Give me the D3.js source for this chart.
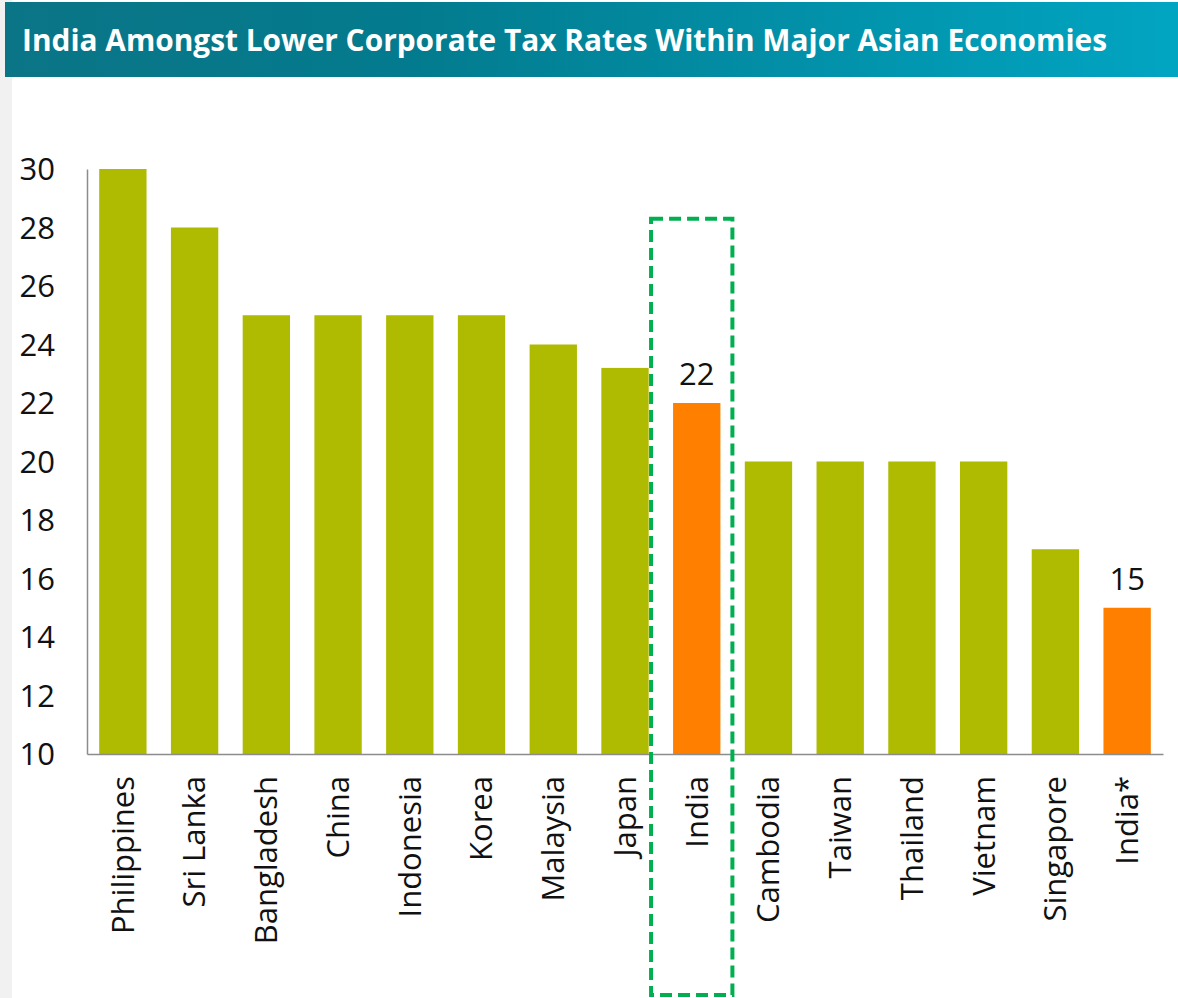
<!DOCTYPE html>
<html>
<head>
<meta charset="utf-8">
<script src="https://cdn.jsdelivr.net/npm/d3@7"></script>
<style>
  body { margin: 0; background: #fff; }
  svg { display: block; }
</style>
</head>
<body>
<div id="chart"></div>
<script>
// data
var countries = ["Philippines", "Sri Lanka", "Bangladesh", "China", "Indonesia", "Korea",
                 "Malaysia", "Japan", "India", "Cambodia", "Taiwan", "Thailand", "Vietnam",
                 "Singapore", "India*"];
var taxRates = [30, 28, 25, 25, 25, 25, 24, 23.2, 22, 20, 20, 20, 20, 17, 15];
var highlighted = ["India", "India*"];
var yTicks = [10, 12, 14, 16, 18, 20, 22, 24, 26, 28, 30];
var titleText = "India Amongst Lower Corporate Tax Rates Within Major Asian Economies";

var W = 1178, H = 998;
var margin = {top: 169, left: 87, right: 15, bottom: 244};
var width = W - margin.left - margin.right,
    height = H - margin.top - margin.bottom;

var data = countries.map(function(c, i){ return {name: c, value: taxRates[i]}; });

var svg = d3.select("#chart").append("svg")
    .attr("width", W)
    .attr("height", H);

// light gray strip on the left
svg.append("rect")
    .attr("x", 0).attr("y", 0)
    .attr("width", 12).attr("height", H)
    .attr("fill", "#f1f1f1");

// title bar with gradient
var grad = svg.append("defs").append("linearGradient")
    .attr("id", "titleGrad")
    .attr("x1", "0%").attr("x2", "100%").attr("y1", "0%").attr("y2", "0%");
grad.append("stop").attr("offset", "0%").attr("stop-color", "#0a7586");
grad.append("stop").attr("offset", "35%").attr("stop-color", "#037b8e");
grad.append("stop").attr("offset", "100%").attr("stop-color", "#01a5c2");

svg.append("rect")
    .attr("x", 5).attr("y", 2)
    .attr("width", W - 5).attr("height", 75)
    .attr("fill", "url(#titleGrad)");

svg.append("text")
    .attr("x", 22).attr("y", 51)
    .attr("fill", "#fff")
    .attr("font-family", "'Open Sans', sans-serif")
    .attr("font-weight", 700)
    .attr("font-size", "30px")
    .attr("textLength", 1085)
    .attr("lengthAdjust", "spacingAndGlyphs")
    .text(titleText);

var g = svg.append("g")
    .attr("transform", "translate(" + margin.left + "," + margin.top + ")");

var x = d3.scaleBand()
    .domain(countries)
    .range([0, width])
    .paddingInner(0.34)
    .paddingOuter(0.17);

var y = d3.scaleLinear()
    .domain([10, 30])
    .range([height, 0]);

// bars
g.selectAll(".bar")
    .data(data)
    .enter().append("rect")
    .attr("class", "bar")
    .attr("x", function(d){ return x(d.name); })
    .attr("y", function(d){ return y(d.value); })
    .attr("width", x.bandwidth())
    .attr("height", function(d){ return y(10) - y(d.value); })
    .attr("fill", function(d){ return highlighted.indexOf(d.name) >= 0 ? "#ff7f00" : "#afbb00"; });

// value labels on highlighted bars
g.selectAll(".val")
    .data(data.filter(function(d){ return highlighted.indexOf(d.name) >= 0; }))
    .enter().append("text")
    .attr("class", "val")
    .attr("x", function(d){ return x(d.name) + x.bandwidth() / 2; })
    .attr("y", function(d){ return y(d.value) - 18; })
    .attr("text-anchor", "middle")
    .attr("font-family", "'Open Sans', sans-serif")
    .attr("font-size", "31px")
    .attr("fill", "#111")
    .text(function(d){ return d3.format("d")(d.value); });

// y axis
var yAxis = g.append("g")
    .call(d3.axisLeft(y).tickValues(yTicks).tickSize(0).tickPadding(32).tickFormat(d3.format("d")));
yAxis.select(".domain").attr("stroke", "#8c8c8c").attr("stroke-width", 1.5);
yAxis.selectAll("text")
    .attr("font-family", "'Open Sans', sans-serif")
    .attr("font-size", "31px")
    .attr("fill", "#111")
    .attr("dy", "0.35em");

// x axis
var xAxis = g.append("g")
    .attr("transform", "translate(0," + height + ")")
    .call(d3.axisBottom(x).tickSize(0).tickPadding(0));
xAxis.select(".domain").attr("stroke", "#8c8c8c").attr("stroke-width", 1.5);
xAxis.selectAll("text")
    .attr("font-family", "'Open Sans', sans-serif")
    .attr("font-size", "31px")
    .attr("fill", "#111")
    .attr("text-anchor", "end")
    .attr("transform", "rotate(-90)")
    .attr("x", -22)
    .attr("y", 0)
    .attr("dy", "0.35em");

// dashed box round India
var bx = x("India");
svg.append("rect")
    .attr("x", margin.left + bx - 22)
    .attr("y", margin.top + y(28.3))
    .attr("width", x.bandwidth() + 34)
    .attr("height", H - 3 - (margin.top + y(28.3)))
    .attr("fill", "none")
    .attr("stroke", "#00b050")
    .attr("stroke-width", 4)
    .attr("stroke-dasharray", "12,6");
</script>
</body>
</html>
